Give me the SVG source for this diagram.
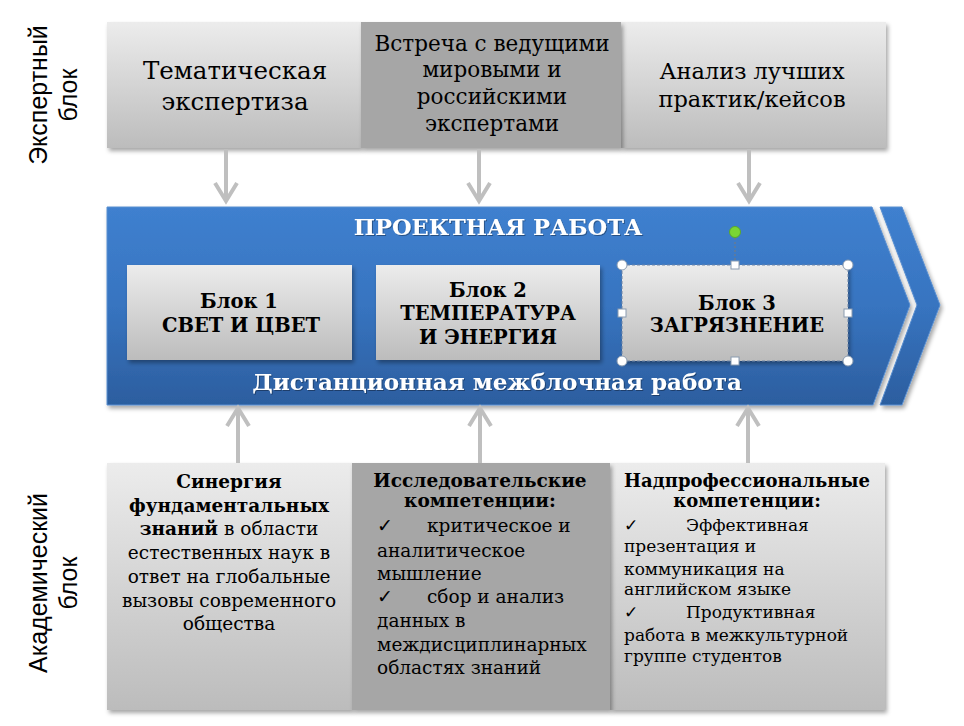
<svg xmlns="http://www.w3.org/2000/svg" width="964" height="726" viewBox="0 0 964 726">
<defs>
<linearGradient id="gLight" x1="0" y1="0" x2="0" y2="1">
<stop offset="0" stop-color="#ececec"/>
<stop offset="1" stop-color="#bcbcbc"/>
</linearGradient>
<linearGradient id="gBlue" x1="0" y1="0" x2="0" y2="1">
<stop offset="0" stop-color="#3f80cf"/>
<stop offset="0.5" stop-color="#3774c0"/>
<stop offset="1" stop-color="#2c5e9f"/>
</linearGradient>
<filter id="sh" x="-10%" y="-10%" width="120%" height="120%">
<feDropShadow dx="2" dy="3" stdDeviation="2" flood-color="#000" flood-opacity="0.35"/>
</filter>
<filter id="tsh" x="-5%" y="-20%" width="110%" height="140%">
<feDropShadow dx="1" dy="1" stdDeviation="0.6" flood-color="#000" flood-opacity="0.35"/>
</filter>
</defs>
<style>
.side{font-family:"Liberation Sans",Arial,sans-serif;font-size:25px;fill:#000;text-anchor:middle}
.top{font-family:"DejaVu Serif","Liberation Serif",serif;fill:#000;text-anchor:middle}
.wh{font-family:"DejaVu Serif","Liberation Serif",serif;font-weight:bold;fill:#fff;text-anchor:middle}
.blk{font-family:"DejaVu Serif","Liberation Serif",serif;font-weight:bold;font-size:19.5px;fill:#000;text-anchor:middle}
.bt{font-family:"DejaVu Serif","Liberation Serif",serif;font-size:18.5px;fill:#000}
.bt3{font-family:"DejaVu Serif","Liberation Serif",serif;font-size:17px;fill:#000}
.bt3h{font-family:"DejaVu Serif","Liberation Serif",serif;font-size:18px;font-weight:bold;fill:#000;text-anchor:middle}
.b{font-weight:bold}
.conn line,.conn polyline{stroke:#bfbfbf;stroke-width:4;fill:none;stroke-linecap:butt}
.hdl{fill:#fff;stroke:#8a9bb0;stroke-width:1}
</style>

<g id="side-labels">
<text class="side" transform="translate(47,95) rotate(-90)">Экспертный</text>
<text class="side" transform="translate(77,95) rotate(-90)">блок</text>
<text class="side" transform="translate(47,583) rotate(-90)">Академический</text>
<text class="side" transform="translate(77,583) rotate(-90)">блок</text>
</g>

<g id="expert-1">
<rect x="107" y="22" width="254" height="126" fill="url(#gLight)" filter="url(#sh)"/>
<text class="top" font-size="24.5" x="235" y="79">Тематическая</text>
<text class="top" font-size="24.5" x="235" y="110">экспертиза</text>
</g>
<g id="expert-3">
<rect x="621" y="22" width="265" height="126" fill="url(#gLight)" filter="url(#sh)"/>
<text class="top" font-size="22.5" x="752" y="79">Анализ лучших</text>
<text class="top" font-size="22.5" x="752" y="107">практик/кейсов</text>
</g>
<g id="expert-2">
<rect x="361" y="22" width="260" height="126" fill="#a6a6a6" filter="url(#sh)"/>
<text class="top" font-size="21.5" x="492" y="51">Встреча с ведущими</text>
<text class="top" font-size="21.5" x="492" y="77">мировыми и</text>
<text class="top" font-size="21.5" x="492" y="104">российскими</text>
<text class="top" font-size="21.5" x="492" y="131">экспертами</text>
</g>

<g id="project">
<polygon points="107,207 872,207 910,305 873,405 107,405" fill="url(#gBlue)" stroke="#5a8fd0" stroke-width="1" filter="url(#sh)"/>
<polygon points="880,207 902,207 940,305 902,405 880,405 917,305" fill="url(#gBlue)" stroke="#5a8fd0" stroke-width="1" filter="url(#sh)"/>
<text class="wh" font-size="22.5" x="498" y="235" filter="url(#tsh)">ПРОЕКТНАЯ РАБОТА</text>
<text class="wh" font-size="23" x="497" y="390" filter="url(#tsh)">Дистанционная межблочная работа</text>
</g>

<g id="block-1">
<rect x="127" y="265" width="225" height="95" fill="url(#gLight)" filter="url(#sh)"/>
<text class="blk" x="239" y="308">Блок 1</text>
<text class="blk" x="241" y="332">СВЕТ И ЦВЕТ</text>
</g>
<g id="block-2">
<rect x="376" y="265" width="224" height="95" fill="url(#gLight)" filter="url(#sh)"/>
<text class="blk" x="488" y="297">Блок 2</text>
<text class="blk" x="488" y="320">ТЕМПЕРАТУРА</text>
<text class="blk" x="488" y="344">И ЭНЕРГИЯ</text>
</g>
<g id="block-3">
<rect x="622" y="265" width="226" height="96" fill="url(#gLight)" filter="url(#sh)"/>
<rect x="622" y="265" width="226" height="96" fill="none" stroke="#6f86a8" stroke-width="1" stroke-dasharray="3,2"/>
<text class="blk" x="737" y="310">Блок 3</text>
<text class="blk" x="737" y="332">ЗАГРЯЗНЕНИЕ</text>
<line x1="735" y1="238" x2="735" y2="261" stroke="#7a7a7a" stroke-width="1" stroke-dasharray="2,2"/>
<circle cx="735" cy="232" r="5.5" fill="#7ad634" stroke="#5aa82a" stroke-width="1"/>
<circle class="hdl" cx="622" cy="265" r="5"/>
<circle class="hdl" cx="848" cy="265" r="5"/>
<circle class="hdl" cx="622" cy="361" r="5"/>
<circle class="hdl" cx="848" cy="361" r="5"/>
<rect class="hdl" x="731" y="261" width="8" height="8"/>
<rect class="hdl" x="731" y="357" width="8" height="8"/>
<rect class="hdl" x="618" y="309" width="8" height="8"/>
<rect class="hdl" x="844" y="309" width="8" height="8"/>
</g>

<g id="academic-1">
<rect x="107" y="463" width="245" height="247" fill="url(#gLight)" filter="url(#sh)"/>
<text class="bt b" text-anchor="middle" x="229" y="488">Синергия</text>
<text class="bt b" text-anchor="middle" x="229" y="512">фундаментальных</text>
<text class="bt" text-anchor="middle" x="229" y="535"><tspan class="b">знаний</tspan> в области</text>
<text class="bt" text-anchor="middle" x="229" y="559">естественных наук в</text>
<text class="bt" text-anchor="middle" x="229" y="583">ответ на глобальные</text>
<text class="bt" text-anchor="middle" x="229" y="607">вызовы современного</text>
<text class="bt" text-anchor="middle" x="229" y="630">общества</text>
</g>
<g id="academic-3">
<rect x="610" y="463" width="275" height="247" fill="url(#gLight)" filter="url(#sh)"/>
<text class="bt3h" x="747" y="487">Надпрофессиональные</text>
<text class="bt3h" x="747" y="507">компетенции:</text>
<text class="bt3" x="624" y="531">✓</text>
<text class="bt3" x="686" y="531">Эффективная</text>
<text class="bt3" x="624" y="552">презентация и</text>
<text class="bt3" x="624" y="575">коммуникация на</text>
<text class="bt3" x="624" y="595">английском языке</text>
<text class="bt3" x="624" y="618">✓</text>
<text class="bt3" x="686" y="618">Продуктивная</text>
<text class="bt3" x="624" y="641">работа в межкультурной</text>
<text class="bt3" x="624" y="662">группе студентов</text>
</g>
<g id="academic-2">
<rect x="352" y="463" width="258" height="247" fill="#a6a6a6" filter="url(#sh)"/>
<text class="bt b" text-anchor="middle" x="480" y="487">Исследовательские</text>
<text class="bt b" text-anchor="middle" x="480" y="507">компетенции:</text>
<text class="bt" x="377" y="532">✓</text>
<text class="bt" x="427" y="532">критическое и</text>
<text class="bt" x="377" y="557">аналитическое</text>
<text class="bt" x="377" y="580">мышление</text>
<text class="bt" x="377" y="603">✓</text>
<text class="bt" x="427" y="603">сбор и анализ</text>
<text class="bt" x="377" y="627">данных в</text>
<text class="bt" x="377" y="651">междисциплинарных</text>
<text class="bt" x="377" y="674">областях знаний</text>
</g>

<g id="connectors" class="conn">
<line x1="226" y1="149" x2="226" y2="201"/>
<polyline points="215,183 226,201 237,183"/>
<line x1="479" y1="149" x2="479" y2="201"/>
<polyline points="468,183 479,201 490,183"/>
<line x1="749" y1="149" x2="749" y2="201"/>
<polyline points="738,183 749,201 760,183"/>
<line x1="238" y1="463" x2="238" y2="408"/>
<polyline points="227,426 238,408 249,426"/>
<line x1="480" y1="463" x2="480" y2="408"/>
<polyline points="469,426 480,408 491,426"/>
<line x1="748" y1="463" x2="748" y2="408"/>
<polyline points="737,426 748,408 759,426"/>
</g>
</svg>
